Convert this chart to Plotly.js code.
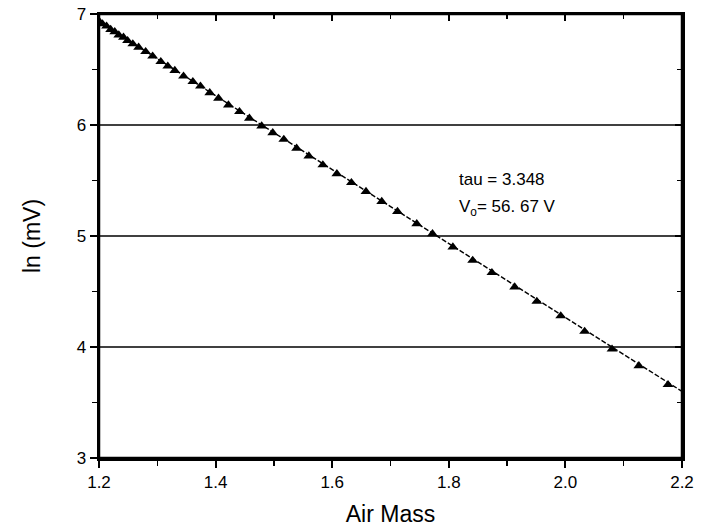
<!DOCTYPE html>
<html>
<head>
<meta charset="utf-8">
<script src="https://cdn.plot.ly/plotly-3.0.1.min.js"></script>
<style>
  html, body { margin: 0; padding: 0; background: #fff; }
  #chart { width: 706px; height: 527px; }
</style>
</head>
<body>
<div id="chart"></div>
<script>
// Measured points: air mass vs ln(mV)
const airMass = [1.201, 1.206, 1.213, 1.220, 1.227, 1.234, 1.242, 1.249, 1.258, 1.268,
                 1.280, 1.292, 1.306, 1.318, 1.330, 1.345, 1.361, 1.374, 1.390, 1.405,
                 1.422, 1.441, 1.458, 1.479, 1.498, 1.517, 1.539, 1.560, 1.584, 1.608,
                 1.633, 1.658, 1.685, 1.712, 1.745, 1.772, 1.807, 1.841, 1.874, 1.913,
                 1.951, 1.992, 2.033, 2.080, 2.126, 2.176];
const lnMV = [6.93, 6.91, 6.89, 6.86, 6.84, 6.81, 6.79, 6.76, 6.73, 6.70,
              6.66, 6.62, 6.57, 6.53, 6.49, 6.44, 6.39, 6.35, 6.29, 6.24,
              6.18, 6.12, 6.06, 5.99, 5.93, 5.87, 5.79, 5.72, 5.64, 5.56,
              5.48, 5.40, 5.31, 5.22, 5.11, 5.02, 4.90, 4.78, 4.67, 4.54,
              4.41, 4.28, 4.14, 3.98, 3.83, 3.66];
// Fitted line endpoints
const fitX = [1.2, 2.2];
const fitY = [6.93, 3.60];
// Axis ticks
const xTicks = [1.2, 1.4, 1.6, 1.8, 2.0, 2.2];
const xTickText = ['1.2', '1.4', '1.6', '1.8', '2.0', '2.2'];
const yTicks = [3, 4, 5, 6, 7];
const yTickText = ['3', '4', '5', '6', '7'];
const gridLevels = [4, 5, 6];
const noteLines = ['tau = 3.348', 'V<sub>o</sub>= 56. 67 V'];

const font = 'Liberation Sans, Arial, Helvetica, sans-serif';

const traces = [
  {
    x: fitX, y: fitY, xaxis: 'x2', yaxis: 'y2',
    mode: 'lines', hoverinfo: 'skip', showlegend: false,
    line: { color: '#000', width: 1.4, dash: '5px,2px' }
  },
  {
    x: airMass, y: lnMV, mode: 'markers', showlegend: false,
    marker: { symbol: 'triangle-up', size: 9.5, color: '#000' }
  }
];

const shapes = gridLevels.map(v => ({
  type: 'line', xref: 'paper', x0: 0, x1: 1, yref: 'y', y0: v, y1: v,
  line: { color: '#000', width: 1.5 }, layer: 'below'
}));
shapes.push({
  type: 'rect', xref: 'paper', yref: 'paper', x0: 0, x1: 1, y0: 0, y1: 1,
  line: { color: '#000', width: 2.5 }, fillcolor: 'rgba(0,0,0,0)', layer: 'above'
});

const layout = {
  width: 706, height: 527,
  margin: { l: 99, r: 24, t: 14, b: 69 },
  paper_bgcolor: '#fff', plot_bgcolor: '#fff',
  font: { family: font, color: '#000', size: 17 },
  showlegend: false,
  xaxis: {
    range: [1.2, 2.2], tickvals: xTicks, ticktext: xTickText,
    ticks: 'outside', ticklen: 7, tickwidth: 2, tickcolor: '#000',
    minor: { dtick: 0.1, tick0: 1.2, ticks: 'outside', ticklen: 5, tickwidth: 1.5, tickcolor: '#000', showgrid: false },
    showgrid: false, zeroline: false,
    showline: true, linewidth: 2.5, linecolor: '#000',
    tickfont: { size: 17, color: '#000' },
    title: { text: 'Air Mass', font: { size: 23, color: '#000' }, standoff: 16 }
  },
  yaxis: {
    range: [3, 7], tickvals: yTicks, ticktext: yTickText,
    ticks: 'outside', ticklen: 7, tickwidth: 2, tickcolor: '#000',
    minor: { dtick: 0.5, tick0: 3, ticks: 'outside', ticklen: 5, tickwidth: 1.5, tickcolor: '#000', showgrid: false },
    showgrid: false, zeroline: false,
    showline: true, linewidth: 2.5, linecolor: '#000',
    tickfont: { size: 17, color: '#000' },
    title: { text: 'ln (mV)', font: { size: 23, color: '#000' }, standoff: 30 }
  },
  xaxis2: {
    overlaying: 'x', side: 'top', range: [1.2, 2.2],
    tickvals: xTicks, showticklabels: false,
    ticks: 'inside', ticklen: 7, tickwidth: 2, tickcolor: '#000',
    minor: { dtick: 0.1, tick0: 1.2, ticks: 'inside', ticklen: 5, tickwidth: 1.5, tickcolor: '#000' },
    showgrid: false, zeroline: false,
    showline: true, linewidth: 2.5, linecolor: '#000'
  },
  yaxis2: {
    overlaying: 'y', side: 'right', range: [3, 7],
    tickvals: yTicks, showticklabels: false,
    ticks: 'inside', ticklen: 7, tickwidth: 2, tickcolor: '#000',
    minor: { dtick: 0.5, tick0: 3, ticks: 'inside', ticklen: 5, tickwidth: 1.5, tickcolor: '#000' },
    showgrid: false, zeroline: false,
    showline: true, linewidth: 2.5, linecolor: '#000'
  },
  shapes: shapes,
  annotations: [
    { x: 1.814, y: 5.51, xref: 'x', yref: 'y', text: noteLines[0], showarrow: false,
      xanchor: 'left', yanchor: 'middle', font: { size: 17, color: '#000' } },
    { x: 1.814, y: 5.25, xref: 'x', yref: 'y', text: noteLines[1], showarrow: false,
      xanchor: 'left', yanchor: 'middle', font: { size: 17, color: '#000' } }
  ]
};

Plotly.newPlot('chart', traces, layout, { displayModeBar: false, staticPlot: true });
</script>
</body>
</html>
